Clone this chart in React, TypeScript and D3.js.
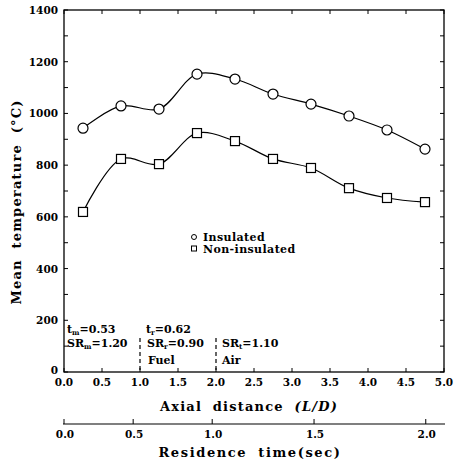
import React from "react";
import * as d3 from "d3";

// Axial positions (L/D) of the measurement stations
const axialPositions = [0.25, 0.75, 1.25, 1.75, 2.25, 2.75, 3.25, 3.75, 4.25, 4.75];
// Mean temperature (°C) at each station
const insulatedTemps = [943, 1029, 1017, 1152, 1133, 1075, 1036, 990, 936, 862];
const nonInsulatedTemps = [619, 824, 804, 924, 893, 824, 789, 711, 673, 657];

const yTicks = [0, 200, 400, 600, 800, 1000, 1200, 1400];
const yMinorTicks = d3.range(0, 1401, 100);
const xTicks = [0, 0.5, 1, 1.5, 2, 2.5, 3, 3.5, 4, 4.5, 5];
// Residence time ticks (sec) and the axial distance (L/D) each corresponds to
const timeTicks = [0, 0.5, 1.0, 1.5, 2.0];
const timeTickAxial = [0, 0.91, 1.95, 3.29, 4.76];

const FONT = "'DejaVu Serif', serif";

export default function App() {
  const left = 64, right = 444, top = 10, bottom = 372;
  const x = d3.scaleLinear().domain([0, 5]).range([left, right]);
  const y = d3.scaleLinear().domain([0, 1400]).range([bottom, top]);
  const tx = d3.scaleLinear().domain(timeTicks).range(timeTickAxial);

  const line = d3
    .line<number>()
    .x((_, i) => x(axialPositions[i]))
    .y((d) => y(d))
    .curve(d3.curveCatmullRom.alpha(0.5));

  const ins = line(insulatedTemps) || "";
  const non = line(nonInsulatedTemps) || "";
  const sq = 9;
  const timeAxisY = 424;
  const titleStyle = { letterSpacing: 1.2, wordSpacing: 5 };

  return (
    <svg width={456} height={463} style={{ position: "absolute", left: 0, top: 0 }} fontFamily={FONT}>
      <rect width={456} height={463} fill="#fff" />
      {/* frame */}
      <rect x={left} y={top} width={right - left} height={bottom - top} fill="none" stroke="#000" strokeWidth={1.3} />

      {/* y ticks, inward on both sides */}
      {yMinorTicks.map((t) => (
        <g key={"ym" + t}>
          <line x1={left} x2={left + 4} y1={y(t)} y2={y(t)} stroke="#000" />
          <line x1={right} x2={right - 4} y1={y(t)} y2={y(t)} stroke="#000" />
        </g>
      ))}
      {yTicks.map((t) => (
        <text key={"yl" + t} x={left - 6} y={y(t) + (t === 0 ? 2 : 4)} textAnchor="end" fontSize={10.5} fontWeight="bold">
          {t}
        </text>
      ))}

      {/* x ticks, inward on top and bottom */}
      {xTicks.map((t) => (
        <g key={"x" + t}>
          <line x1={x(t)} x2={x(t)} y1={bottom} y2={bottom - 4} stroke="#000" />
          <line x1={x(t)} x2={x(t)} y1={top} y2={top + 4} stroke="#000" />
          <text x={x(t)} y={bottom + 14} textAnchor="middle" fontSize={10.5} fontWeight="bold">
            {t.toFixed(1)}
          </text>
        </g>
      ))}

      {/* axis titles */}
      <text x={249} y={411} textAnchor="middle" fontSize={13} fontWeight="bold" style={titleStyle}>
        Axial distance <tspan fontStyle="italic">(L/D)</tspan>
      </text>
      <text
        transform={`translate(21,${202}) rotate(-90)`}
        textAnchor="middle"
        fontSize={13}
        fontWeight="bold"
        style={titleStyle}
      >
        Mean temperature (°C)
      </text>

      {/* residence time axis */}
      <line x1={left - 1} x2={right + 1} y1={timeAxisY} y2={timeAxisY} stroke="#000" strokeWidth={1.2} />
      {timeTicks.map((t) => (
        <g key={"t" + t}>
          <line x1={x(tx(t))} x2={x(tx(t))} y1={timeAxisY} y2={timeAxisY - 5} stroke="#000" />
          <text x={x(tx(t)) + 1} y={timeAxisY + 14} textAnchor="middle" fontSize={10.5} fontWeight="bold">
            {t.toFixed(1)}
          </text>
        </g>
      ))}
      <text x={250} y={457} textAnchor="middle" fontSize={13} fontWeight="bold" style={{ letterSpacing: 1.6, wordSpacing: 5 }}>
        Residence time(sec)
      </text>

      {/* zone boundaries */}
      <line x1={x(1)} x2={x(1)} y1={338} y2={bottom} stroke="#000" strokeWidth={1.2} strokeDasharray="4,3" />
      <line x1={x(2)} x2={x(2)} y1={338} y2={bottom} stroke="#000" strokeWidth={1.2} strokeDasharray="4,3" />

      <g fontSize={11} fontWeight="bold">
        <text x={67} y={333}>
          t<tspan fontSize={7} dy={2}>m</tspan>
          <tspan dy={-2}>=0.53</tspan>
        </text>
        <text x={67} y={347}>
          SR<tspan fontSize={7} dy={2}>m</tspan>
          <tspan dy={-2}>=1.20</tspan>
        </text>
        <text x={146} y={333}>
          t<tspan fontSize={7} dy={2}>r</tspan>
          <tspan dy={-2}>=0.62</tspan>
        </text>
        <text x={147} y={347}>
          SR<tspan fontSize={7} dy={2}>r</tspan>
          <tspan dy={-2}>=0.90</tspan>
        </text>
        <text x={148} y={364}>Fuel</text>
        <text x={222} y={347}>
          SR<tspan fontSize={7} dy={2}>t</tspan>
          <tspan dy={-2}>=1.10</tspan>
        </text>
        <text x={222} y={364}>Air</text>
      </g>

      {/* legend */}
      <circle cx={194} cy={237} r={2.5} fill="none" stroke="#000" />
      <text x={203} y={241} fontSize={11} fontWeight="bold" letterSpacing={0.4}>Insulated</text>
      <rect x={191.5} y={246} width={5} height={5} fill="none" stroke="#000" />
      <text x={203} y={253} fontSize={11} fontWeight="bold" letterSpacing={0.4}>Non-insulated</text>

      {/* series */}
      <path d={ins} fill="none" stroke="#000" strokeWidth={1.2} />
      <path d={non} fill="none" stroke="#000" strokeWidth={1.2} />
      {insulatedTemps.map((v, i) => (
        <circle key={"c" + i} cx={x(axialPositions[i])} cy={y(v)} r={5} fill="#fff" stroke="#000" strokeWidth={1.2} />
      ))}
      {nonInsulatedTemps.map((v, i) => (
        <rect
          key={"s" + i}
          x={x(axialPositions[i]) - sq / 2}
          y={y(v) - sq / 2}
          width={sq}
          height={sq}
          fill="#fff"
          stroke="#000"
          strokeWidth={1.2}
        />
      ))}
    </svg>
  );
}
